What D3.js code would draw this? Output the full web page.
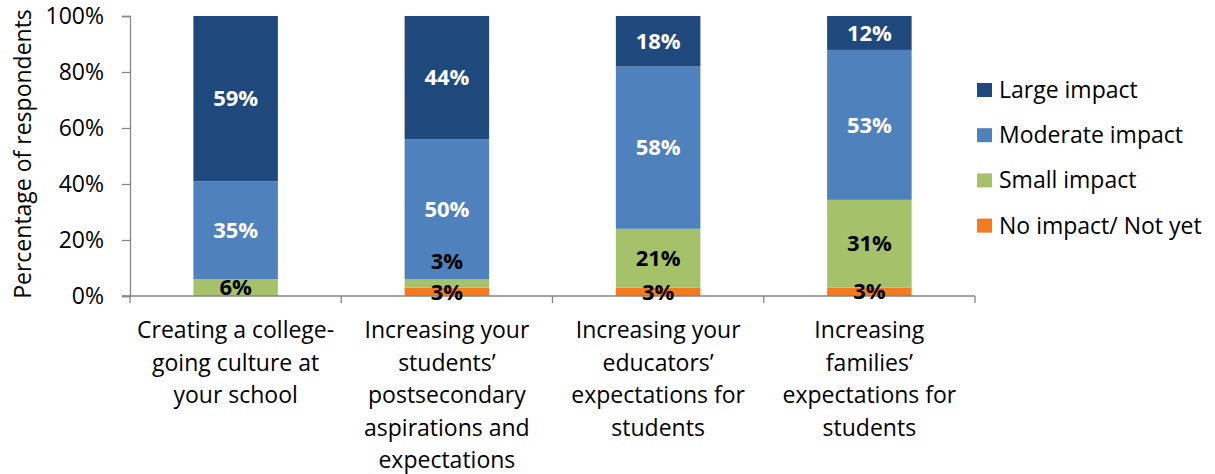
<!DOCTYPE html>
<html>
<head>
<meta charset="utf-8">
<script src="https://cdn.jsdelivr.net/npm/d3@7"></script>
<style>
  html, body { margin: 0; padding: 0; background: #fff; }
  svg { display: block; font-family: "Open Sans", sans-serif; }
</style>
</head>
<body>
<svg id="chart" width="1215" height="474"></svg>
<script>
// Survey categories (x axis), each label split into display lines
const categories = [
  "Creating a college-going culture at your school",
  "Increasing your students' postsecondary aspirations and expectations",
  "Increasing your educators' expectations for students",
  "Increasing families' expectations for students"
];
const categoryLines = [
  ["Creating a college-", "going culture at", "your school"],
  ["Increasing your", "students\u2019", "postsecondary", "aspirations and", "expectations"],
  ["Increasing your", "educators\u2019", "expectations for", "students"],
  ["Increasing", "families\u2019", "expectations for", "students"]
];

// Series, stacked bottom to top
const seriesNames = ["No impact/ Not yet", "Small impact", "Moderate impact", "Large impact"];
const noImpact    = [0, 3, 3, 3];
const smallImpact = [6, 3, 21, 31];
const moderate    = [35, 50, 58, 53];
const large       = [59, 44, 18, 12];
const seriesColors = ["#F47B20", "#A5C26B", "#4F81BD", "#1F497D"];
const labelColors  = ["#000", "#000", "#fff", "#fff"];

const yTicks = [0, 0.2, 0.4, 0.6, 0.8, 1.0];

const rows = categories.map((c, i) => ({
  category: c,
  "No impact/ Not yet": noImpact[i],
  "Small impact": smallImpact[i],
  "Moderate impact": moderate[i],
  "Large impact": large[i]
}));

const svg = d3.select("#chart");
const margin = { left: 130, right: 240, top: 16, bottom: 178 };
const width = 1215, height = 474;
const plotRight = width - margin.right;
const plotBottom = height - margin.bottom;
const textSize = "23px";

const x = d3.scaleBand()
  .domain(categories)
  .range([margin.left, plotRight])
  .paddingInner(0.6)
  .paddingOuter(0.3);

const y = d3.scaleLinear().domain([0, 1]).range([plotBottom, margin.top]);

// 100% stacked layout
const stack = d3.stack().keys(seriesNames).offset(d3.stackOffsetExpand);
const stacked = stack(rows);

const axisColor = "#868686";

// Bars
const layers = svg.append("g").selectAll("g")
  .data(stacked)
  .join("g")
  .attr("fill", (d, i) => seriesColors[i]);

layers.selectAll("rect")
  .data(d => d)
  .join("rect")
  .attr("x", d => x(d.data.category))
  .attr("width", x.bandwidth())
  .attr("y", d => y(d[1]))
  .attr("height", d => y(d[0]) - y(d[1]));

// Y axis
const yAxis = d3.axisLeft(y)
  .tickValues(yTicks)
  .tickFormat(d3.format(".0%"))
  .tickSize(8)
  .tickPadding(18);
const gy = svg.append("g")
  .attr("transform", `translate(${margin.left},0)`)
  .call(yAxis);
gy.select(".domain").attr("stroke", axisColor).attr("stroke-width", 1.3);
gy.selectAll(".tick line").attr("stroke", axisColor).attr("stroke-width", 1.3);
gy.selectAll(".tick text")
  .attr("fill", "#000")
  .style("font-size", textSize)
  .style("font-family", "'Open Sans', sans-serif");

// X axis line with ticks at category boundaries
const boundaries = d3.range(categories.length + 1).map(i => margin.left + i * (plotRight - margin.left) / categories.length);
svg.append("line")
  .attr("x1", margin.left - 8).attr("x2", plotRight)
  .attr("y1", plotBottom).attr("y2", plotBottom)
  .attr("stroke", axisColor).attr("stroke-width", 1.3);
svg.append("g").selectAll("line")
  .data(boundaries)
  .join("line")
  .attr("x1", d => d).attr("x2", d => d)
  .attr("y1", plotBottom).attr("y2", plotBottom + 7)
  .attr("stroke", axisColor).attr("stroke-width", 1.3);

// Category labels
const catG = svg.append("g");
categoryLines.forEach((lines, i) => {
  const cx = x(categories[i]) + x.bandwidth() / 2;
  const t = catG.append("text")
    .attr("text-anchor", "middle")
    .attr("x", cx)
    .attr("y", 338)
    .style("font-size", textSize)
    .attr("fill", "#000");
  lines.forEach((ln, j) => {
    t.append("tspan").attr("x", cx).attr("dy", j === 0 ? 0 : 32.5).text(ln);
  });
});

// Y axis title
svg.append("text")
  .attr("transform", `translate(31,154) rotate(-90)`)
  .attr("text-anchor", "middle")
  .style("font-size", textSize)
  .attr("fill", "#000")
  .text("Percentage of respondents");

// Value labels, centred in each segment; the small-impact label in the
// second bar sits above its thin segment
stacked.forEach((layer, si) => {
  layer.forEach((d, ci) => {
    const v = rows[ci][seriesNames[si]];
    if (!v) return;
    let cy = (y(d[0]) + y(d[1])) / 2;
    if (si === 1 && ci === 1) cy = y(d[1]) - 18;
    svg.append("text")
      .attr("x", x(d.data.category) + x.bandwidth() / 2)
      .attr("y", cy)
      .attr("dy", "0.35em")
      .attr("text-anchor", "middle")
      .attr("fill", labelColors[si])
      .style("font-size", "22px")
      .style("font-weight", "bold")
      .text(v + "%");
  });
});

// Legend, top entry is Large impact
const legendOrder = seriesNames.slice().reverse();
const lg = svg.append("g").attr("transform", "translate(977,90)");
legendOrder.forEach((name, i) => {
  const row = lg.append("g").attr("transform", `translate(0,${i * 45.2})`);
  row.append("rect")
    .attr("x", 0).attr("y", -7)
    .attr("width", 15).attr("height", 14)
    .attr("fill", seriesColors[seriesNames.indexOf(name)]);
  row.append("text")
    .attr("x", 22).attr("y", 0).attr("dy", "0.35em")
    .style("font-size", textSize)
    .attr("fill", "#000")
    .text(name);
});
</script>
</body>
</html>
